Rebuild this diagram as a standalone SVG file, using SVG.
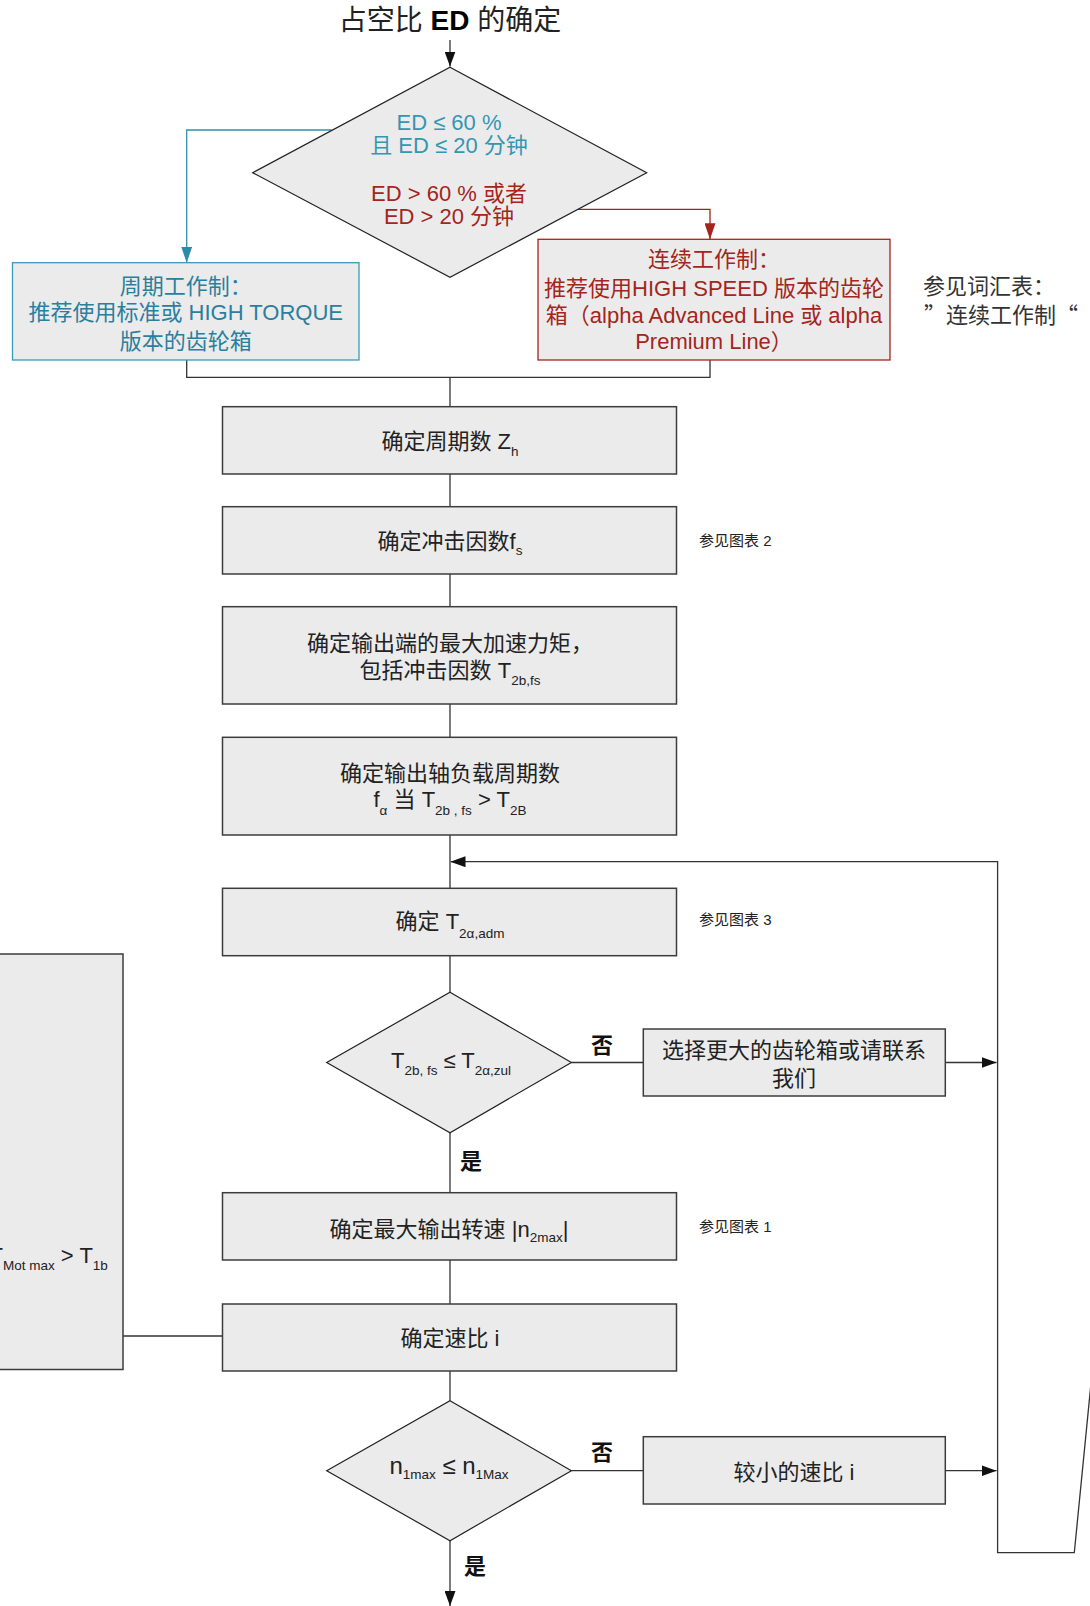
<svg xmlns="http://www.w3.org/2000/svg" width="1090" height="1606" viewBox="0 0 1090 1606">
<defs>
<style>
text { font-family: "Liberation Sans", "Noto Sans CJK SC", sans-serif; fill: #222; }
.box { fill: #ebebeb; stroke: #3c3c3c; stroke-width: 1.5; }
.dia { fill: #ebebeb; stroke: #222; stroke-width: 1.2; }
.conn { fill: none; stroke: #333; stroke-width: 1.3; }
.m { font-size: 22px; }
.sub { font-size: 13.5px; }
.note { font-size: 15px; }
.yn { font-size: 22px; font-weight: bold; fill: #111; }
.blue { fill: #2a7f9e; }
.red { fill: #a3251b; }
</style>
<marker id="ah" markerUnits="userSpaceOnUse" markerWidth="15" markerHeight="11" viewBox="0 0 15 11" refX="15" refY="5.5" orient="auto">
<path d="M0,0 L15,5.5 L0,11 z" fill="#111"/>
</marker>
<marker id="ahb" markerUnits="userSpaceOnUse" markerWidth="16" markerHeight="11" viewBox="0 0 16 11" refX="16" refY="5.5" orient="auto">
<path d="M0,0 L16,5.5 L0,11 z" fill="#2a8ca8"/>
</marker>
<marker id="ahr" markerUnits="userSpaceOnUse" markerWidth="16" markerHeight="11" viewBox="0 0 16 11" refX="16" refY="5.5" orient="auto">
<path d="M0,0 L16,5.5 L0,11 z" fill="#a3251b"/>
</marker>
</defs>

<g id="connectors">
<path class="conn" d="M450,40 V66.5" marker-end="url(#ah)"/>
<path d="M331.7,130 H186.7 V262.7" fill="none" stroke="#2e93b0" stroke-width="1.3" marker-end="url(#ahb)"/>
<path d="M578,209.3 H710 V239.3" fill="none" stroke="#a3251b" stroke-width="1.3" marker-end="url(#ahr)"/>
<path class="conn" d="M186.7,360 V377.3 H710 V360"/>
<path class="conn" d="M450,377.3 V406.7"/>
<path class="conn" d="M450,474 V506.7"/>
<path class="conn" d="M450,574 V606.7"/>
<path class="conn" d="M450,704 V737.3"/>
<path class="conn" d="M450,835 V888.3"/>
<path class="conn" d="M450,955.7 V992.3"/>
<path class="conn" d="M450,1132.7 V1192.7"/>
<path class="conn" d="M450,1260 V1304"/>
<path class="conn" d="M450,1371 V1400.7"/>
<path class="conn" d="M450,1540.7 V1606" marker-end="url(#ah)"/>
<path class="conn" d="M571.4,1062.5 H643.3"/>
<path class="conn" d="M945.4,1062.5 H996.5" marker-end="url(#ah)"/>
<path class="conn" d="M571.4,1470.7 H643.3"/>
<path class="conn" d="M945.4,1470.7 H996.5" marker-end="url(#ah)"/>
<path class="conn" d="M1100,1292 L1074.3,1552.7 H997.6 V861.7 H450.5" marker-end="url(#ah)"/>
<path class="conn" d="M123,1336 H222.5"/>
</g>

<g id="title">
<text x="450" y="30" font-size="28" text-anchor="middle">占空比 <tspan font-weight="bold" fill="#000">ED</tspan> 的确定</text>
</g>

<g id="decision-ed">
<polygon class="dia" points="450,67.3 646.7,172.7 450,277.3 252.7,172.7"/>
<text class="m" x="449" y="130" text-anchor="middle" style="fill:#3496b3">ED ≤ 60 %</text>
<text class="m" x="449" y="152.7" text-anchor="middle" style="fill:#3496b3">且 ED ≤ 20 分钟</text>
<text class="m red" x="449" y="201" text-anchor="middle">ED &gt; 60 % 或者</text>
<text class="m red" x="449" y="224.3" text-anchor="middle">ED &gt; 20 分钟</text>
</g>

<g id="cyclic-box">
<rect x="12.5" y="262.7" width="346.5" height="97.3" fill="#ebebeb" stroke="#3b9ab8" stroke-width="1.3"/>
<text class="m blue" x="185.7" y="294" text-anchor="middle">周期工作制：</text>
<text class="m blue" x="185.7" y="320" text-anchor="middle">推荐使用标准或 HIGH TORQUE</text>
<text class="m blue" x="185.7" y="348.5" text-anchor="middle">版本的齿轮箱</text>
</g>

<g id="continuous-box">
<rect x="538" y="239.3" width="352" height="120.7" fill="#ebebeb" stroke="#a3251b" stroke-width="1.3"/>
<text class="m red" x="714" y="266.5" text-anchor="middle">连续工作制：</text>
<text class="m red" x="714" y="296" text-anchor="middle">推荐使用HIGH SPEED 版本的齿轮</text>
<text class="m red" x="714" y="322.7" text-anchor="middle">箱（alpha Advanced Line 或 alpha</text>
<text class="m red" x="714" y="349.3" text-anchor="middle">Premium Line）</text>
</g>

<g id="glossary-note">
<text class="m" x="923" y="294" style="fill:#333">参见词汇表：</text>
<text class="m" x="924" y="323" style="fill:#333;font-family:'Noto Sans CJK SC',sans-serif">”连续工作制“</text>
</g>

<g id="box-zh">
<rect class="box" x="222.5" y="406.7" width="454" height="67.3"/>
<text class="m" x="450" y="449" text-anchor="middle">确定周期数 Z<tspan class="sub" dy="6.5">h</tspan></text>
</g>

<g id="box-fs">
<rect class="box" x="222.5" y="506.7" width="454" height="67.3"/>
<text class="m" x="450" y="549" text-anchor="middle">确定冲击因数f<tspan class="sub" dy="6">s</tspan></text>
<text class="note" x="699" y="546">参见图表 2</text>
</g>

<g id="box-t2b">
<rect class="box" x="222.5" y="606.7" width="454" height="97.3"/>
<text class="m" x="450" y="651" text-anchor="middle">确定输出端的最大加速力矩，</text>
<text class="m" x="450" y="678" text-anchor="middle">包括冲击因数 T<tspan class="sub" dy="7">2b,fs</tspan></text>
</g>

<g id="box-falpha">
<rect class="box" x="222.5" y="737.3" width="454" height="97.7"/>
<text class="m" x="450" y="781" text-anchor="middle">确定输出轴负载周期数</text>
<text class="m" x="450" y="806.7" text-anchor="middle">f<tspan class="sub" dy="8">α</tspan><tspan dy="-8"> 当 T</tspan><tspan class="sub" dy="8">2b , fs</tspan><tspan dy="-8"> &gt; T</tspan><tspan class="sub" dy="8">2B</tspan></text>
</g>

<g id="box-t2adm">
<rect class="box" x="222.5" y="888.3" width="454" height="67.4"/>
<text class="m" x="450" y="929.3" text-anchor="middle">确定 T<tspan class="sub" dy="9">2α,adm</tspan></text>
<text class="note" x="699" y="925">参见图表 3</text>
</g>

<g id="left-box">
<rect class="box" x="-5" y="954" width="128" height="415.5"/>
<text x="-10.5" y="1263" font-size="22">T<tspan class="sub" dy="7">Mot max</tspan><tspan dy="-7"> &gt; T</tspan><tspan class="sub" dy="7">1b</tspan></text>
</g>

<g id="decision-torque">
<polygon class="dia" points="450,992.3 571.4,1062.5 450,1132.7 326.7,1062.5"/>
<text class="m" x="451" y="1068.3" text-anchor="middle">T<tspan class="sub" dy="7">2b, fs</tspan><tspan dy="-7"> ≤ T</tspan><tspan class="sub" dy="7">2α,zul</tspan></text>
<text class="yn" x="602" y="1053" text-anchor="middle">否</text>
<text class="yn" x="471" y="1168.5" text-anchor="middle">是</text>
</g>

<g id="box-larger">
<rect class="box" x="643.3" y="1029" width="302" height="67"/>
<text class="m" x="794" y="1058" text-anchor="middle">选择更大的齿轮箱或请联系</text>
<text class="m" x="794" y="1086" text-anchor="middle">我们</text>
</g>

<g id="box-n2max">
<rect class="box" x="222.5" y="1192.7" width="454" height="67.3"/>
<text class="m" x="449" y="1236.7" text-anchor="middle">确定最大输出转速 |n<tspan class="sub" dy="5">2max</tspan><tspan dy="-5">|</tspan></text>
<text class="note" x="699" y="1232">参见图表 1</text>
</g>

<g id="box-ratio">
<rect class="box" x="222.5" y="1304" width="454" height="67"/>
<text class="m" x="450" y="1346" text-anchor="middle">确定速比 i</text>
</g>

<g id="decision-speed">
<polygon class="dia" points="450,1400.7 571.4,1470.7 450,1540.7 326.7,1470.7"/>
<text x="449" y="1474.3" font-size="24" text-anchor="middle">n<tspan class="sub" dy="5">1max</tspan><tspan dy="-5"> ≤ n</tspan><tspan class="sub" dy="5">1Max</tspan></text>
<text class="yn" x="602" y="1459.5" text-anchor="middle">否</text>
<text class="yn" x="475" y="1574" text-anchor="middle">是</text>
</g>

<g id="box-smaller">
<rect class="box" x="643.3" y="1436.7" width="302" height="67.3"/>
<text class="m" x="794" y="1479.7" text-anchor="middle">较小的速比 i</text>
</g>
</svg>
